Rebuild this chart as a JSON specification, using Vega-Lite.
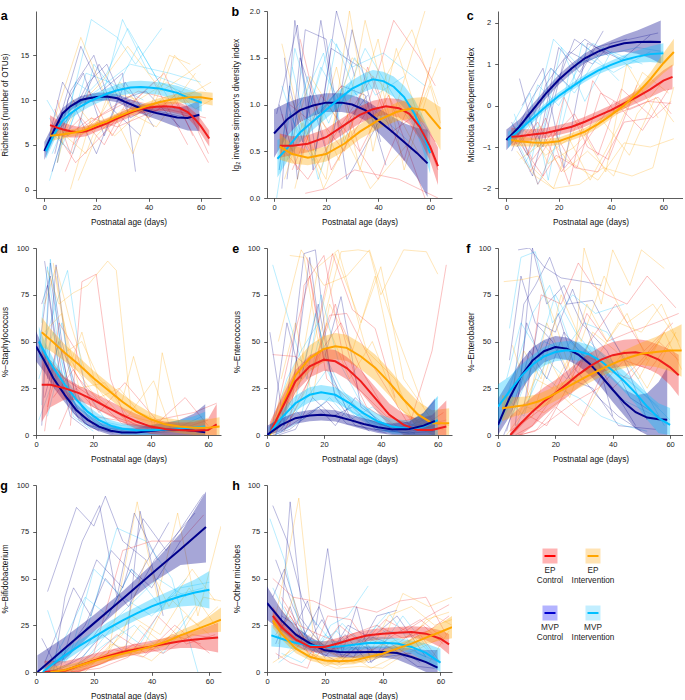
{
"$schema": "https://vega.github.io/schema/vega-lite/v6.json",
"padding": {"left": 0, "top": 5, "right": 0, "bottom": 0},
"autosize": {"type": "pad"},
"columns": 3,
"bounds": "flush",
"spacing": {"row": 50, "column": 46},
"datasets": {
"traj": [
{"p":"a","g":"mi","id":"a1","t":[2,8,18,28,35,45],"v":[1,7,19,17,14,18]},
{"p":"a","g":"mi","id":"a2","t":[5,12,22,30,40,58],"v":[3,12,10,19,13,11]},
{"p":"a","g":"mi","id":"a3","t":[1,9,16,25,38],"v":[10,6,13,12,10]},
{"p":"a","g":"mi","id":"a4","t":[3,10,20,33,48,60],"v":[4,9,11,14,13,12]},
{"p":"a","g":"mi","id":"a17","t":[4,11,19,27,36,50],"v":[6,4,14,11,16,9]},
{"p":"a","g":"mi","id":"a18","t":[2,7,14,24,32,44,60],"v":[8,5,10,13,18,12,10]},
{"p":"a","g":"mc","id":"a5","t":[2,6,14,22,30,35],"v":[5,8,16,11,13,2]},
{"p":"a","g":"mc","id":"a6","t":[4,10,19,26,37],"v":[4,11,15,9,6]},
{"p":"a","g":"mc","id":"a7","t":[3,8,17,24,33,45],"v":[2,7,12,14,8,10]},
{"p":"a","g":"mc","id":"a8","t":[1,12,20,28,40,55],"v":[5,9,4,10,9,8]},
{"p":"a","g":"mc","id":"a19","t":[5,9,15,23,31,42],"v":[3,10,13,6,12,7]},
{"p":"a","g":"mc","id":"a20","t":[2,7,13,21,29,39,52],"v":[6,12,9,14,10,11,7]},
{"p":"a","g":"ec","id":"a9","t":[8,15,25,36,50,63],"v":[2,7,9,11,10,3]},
{"p":"a","g":"ec","id":"a10","t":[3,12,22,31,42,55],"v":[7,3,6,9,12,5]},
{"p":"a","g":"ec","id":"a11","t":[5,9,18,28,44,58],"v":[10,6,8,7,9,8]},
{"p":"a","g":"ec","id":"a12","t":[11,20,33,47,62],"v":[5,8,10,9,8]},
{"p":"a","g":"ec","id":"a21","t":[4,10,17,26,35,46,57],"v":[9,4,11,6,10,13,6]},
{"p":"a","g":"ec","id":"a22","t":[7,14,23,32,40,52,63],"v":[6,8,5,10,8,11,4]},
{"p":"a","g":"ei","id":"a13","t":[4,14,24,34,48,56],"v":[8,17,10,4,15,14]},
{"p":"a","g":"ei","id":"a14","t":[10,18,27,38,52,64],"v":[0,8,6,9,10,12]},
{"p":"a","g":"ei","id":"a15","t":[6,12,22,32,45,60],"v":[5,9,12,16,11,14]},
{"p":"a","g":"ei","id":"a16","t":[13,20,30,43,58],"v":[1,6,9,7,13]},
{"p":"a","g":"ei","id":"a23","t":[5,11,19,29,40,50,62],"v":[3,10,7,12,8,15,11]},
{"p":"a","g":"ei","id":"a24","t":[8,16,25,36,47,58,64],"v":[6,4,11,10,12,9,10]},
{"p":"b","g":"mc","id":"b1","t":[3,8,16,24,31],"v":[0.1,1.9,0.5,2.0,1.3]},
{"p":"b","g":"mc","id":"b2","t":[2,7,12,20,28,40],"v":[1.0,0.5,1.8,1.7,0.2,0.8]},
{"p":"b","g":"mc","id":"b3","t":[5,10,17,26,35,43],"v":[0.2,1.5,0.9,1.2,1.1,0.35]},
{"p":"b","g":"mc","id":"b4","t":[1,9,15,22,33],"v":[0.9,1.85,0.3,1.6,1.4]},
{"p":"b","g":"mc","id":"b17","t":[2,6,11,18,25,36],"v":[0.3,1.2,0.6,1.9,0.7,1.1]},
{"p":"b","g":"mc","id":"b18","t":[4,9,14,21,30,41],"v":[1.5,0.2,1.1,0.4,1.8,0.6]},
{"p":"b","g":"mi","id":"b5","t":[2,8,14,22,30,42,58],"v":[0.3,1.6,1.0,1.7,1.4,1.55,1.2]},
{"p":"b","g":"mi","id":"b6","t":[4,12,19,27,36],"v":[0.8,1.1,1.55,0.6,1.3]},
{"p":"b","g":"mi","id":"b7","t":[1,6,15,24,33,46],"v":[0.0,0.9,0.4,1.65,1.0,0.7]},
{"p":"b","g":"mi","id":"b8","t":[7,17,28,40,52],"v":[1.4,0.2,1.2,0.9,0.6]},
{"p":"b","g":"mi","id":"b19","t":[3,10,18,26,35,48,60],"v":[1.2,0.6,1.4,1.0,1.6,1.0,0.5]},
{"p":"b","g":"mi","id":"b20","t":[5,13,21,31,39,50],"v":[0.5,1.3,0.8,1.5,1.1,1.3]},
{"p":"b","g":"ec","id":"b9","t":[10,22,35,46,56,62],"v":[1.7,0.3,0.9,1.9,1.5,1.2]},
{"p":"b","g":"ec","id":"b10","t":[4,13,24,38,50,60],"v":[0.5,0.2,0.7,1.3,0.4,1.4]},
{"p":"b","g":"ec","id":"b11","t":[6,15,26,33,44,58],"v":[1.0,0.8,1.2,0.5,1.1,0.0]},
{"p":"b","g":"ec","id":"b12","t":[12,20,31,48,63],"v":[0.05,0.1,0.3,0.2,0.0]},
{"p":"b","g":"ec","id":"b21","t":[3,9,18,28,40,52,62],"v":[0.9,0.3,1.1,0.7,0.2,1.0,0.6]},
{"p":"b","g":"ec","id":"b22","t":[7,16,27,36,45,55,63],"v":[0.3,0.9,0.5,1.4,0.7,0.9,0.3]},
{"p":"b","g":"ei","id":"b13","t":[3,12,20,29,38,47,55,64],"v":[1.65,0.6,0.2,2.0,0.5,1.6,0.9,1.5]},
{"p":"b","g":"ei","id":"b14","t":[8,16,25,35,45,58],"v":[0.1,1.0,0.4,1.9,0.8,2.0]},
{"p":"b","g":"ei","id":"b15","t":[5,14,23,37,52,62],"v":[0.4,1.3,0.9,0.1,0.6,1.6]},
{"p":"b","g":"ei","id":"b16","t":[10,18,30,42,57],"v":[0.9,0.3,1.5,1.2,0.4]},
{"p":"b","g":"ei","id":"b23","t":[4,11,19,28,40,50,60,64],"v":[0.2,0.8,0.1,0.6,1.7,0.3,1.2,0.8]},
{"p":"b","g":"ei","id":"b24","t":[6,15,24,33,43,53,63],"v":[1.1,0.5,1.4,0.3,1.3,1.8,1.0]},
{"p":"c","g":"mc","id":"c1","t":[2,8,15,24,33,40,58],"v":[-0.4,-1.2,0.5,1.3,1.0,1.5,1.75]},
{"p":"c","g":"mc","id":"c2","t":[5,12,20,28,37],"v":[0.65,-1.0,1.4,0.8,1.8]},
{"p":"c","g":"mc","id":"c3","t":[3,10,18,26,35],"v":[-0.8,-1.7,0.3,1.6,1.2]},
{"p":"c","g":"mc","id":"c4","t":[6,14,22,31,44,55],"v":[0.0,0.9,-1.5,1.5,1.1,1.7]},
{"p":"c","g":"mc","id":"c17","t":[4,10,17,25,34,46],"v":[-0.6,0.2,0.9,0.4,1.4,1.6]},
{"p":"c","g":"mc","id":"c18","t":[2,8,14,22,30,39],"v":[-1.1,-0.2,-1.0,1.1,1.6,1.2]},
{"p":"c","g":"mi","id":"c5","t":[4,10,18,27,36,50,60],"v":[-1.0,-0.4,1.6,1.0,1.2,1.4,1.3]},
{"p":"c","g":"mi","id":"c6","t":[2,9,16,24,33,45],"v":[-0.5,0.3,-1.8,0.8,1.5,1.1]},
{"p":"c","g":"mi","id":"c7","t":[7,14,21,30,40,52],"v":[-1.4,-0.6,1.4,0.1,1.3,1.0]},
{"p":"c","g":"mi","id":"c8","t":[3,12,20,29,43],"v":[-0.2,-1.9,-0.8,1.5,0.6]},
{"p":"c","g":"mi","id":"c19","t":[5,12,20,30,41,55],"v":[-0.9,0.5,0.0,1.2,0.8,1.3]},
{"p":"c","g":"mi","id":"c20","t":[3,9,17,26,37,48],"v":[-0.7,-1.5,0.9,0.3,1.4,0.9]},
{"p":"c","g":"ec","id":"c9","t":[6,12,19,27,36,47,58,63],"v":[-0.7,-1.9,-1.2,-1.5,0.3,-0.1,0.2,-0.2]},
{"p":"c","g":"ec","id":"c10","t":[3,10,18,26,35,45,55],"v":[-0.5,-1.3,-0.6,-1.5,-1.6,-0.4,-0.3]},
{"p":"c","g":"ec","id":"c11","t":[8,15,24,33,42,54,63],"v":[-1.2,-0.3,-1.9,0.6,-0.2,0.1,0.05]},
{"p":"c","g":"ec","id":"c12","t":[5,14,22,31,39,50],"v":[-0.9,-1.7,0.2,-1.0,-1.3,0.5]},
{"p":"c","g":"ec","id":"c21","t":[4,12,21,30,41,52,62],"v":[-1.0,-0.4,-1.6,-0.9,0.1,-0.6,0.4]},
{"p":"c","g":"ec","id":"c22","t":[9,17,26,35,44,56,63],"v":[-1.6,-0.8,-0.2,-1.2,0.4,-0.3,0.1]},
{"p":"c","g":"ei","id":"c13","t":[4,11,18,28,37,48,56,64],"v":[-1.1,-1.7,-2.0,-1.9,-1.5,-1.7,-1.5,0.45]},
{"p":"c","g":"ei","id":"c14","t":[7,15,24,32,43,52,62],"v":[-0.6,-1.2,-0.8,-1.8,-0.5,0.8,0.3]},
{"p":"c","g":"ei","id":"c15","t":[10,18,27,38,46,58],"v":[-1.5,-2.0,-0.4,-1.6,1.0,-0.3]},
{"p":"c","g":"ei","id":"c16","t":[3,13,23,35,45,55,64],"v":[-0.9,-0.5,-1.3,-1.8,-0.9,-1.0,-0.8]},
{"p":"c","g":"ei","id":"c23","t":[5,14,22,31,41,50,60],"v":[-1.3,-0.9,-1.6,-1.1,-1.7,-0.2,0.6]},
{"p":"c","g":"ei","id":"c24","t":[8,16,26,36,47,57,64],"v":[-0.4,-1.4,-1.0,-0.3,-1.2,0.2,-0.4]},
{"p":"d","g":"mc","id":"d1","t":[3,6,10,15,22],"v":[93,60,25,8,2]},
{"p":"d","g":"mc","id":"d2","t":[2,5,9,14,20,30],"v":[5,92,50,20,5,1]},
{"p":"d","g":"mc","id":"d3","t":[1,4,8,12,18],"v":[45,80,35,10,3]},
{"p":"d","g":"mc","id":"d4","t":[4,7,11,16,24,35],"v":[30,91,40,15,4,1]},
{"p":"d","g":"mc","id":"d17","t":[2,5,9,13,19,27],"v":[70,85,45,12,4,1]},
{"p":"d","g":"mc","id":"d18","t":[3,8,12,17,25,40,58],"v":[20,50,22,6,2,1,3]},
{"p":"d","g":"mi","id":"d5","t":[2,5,9,13,20],"v":[16,94,40,10,2]},
{"p":"d","g":"mi","id":"d6","t":[3,7,11,17,25,35],"v":[50,70,88,25,6,2]},
{"p":"d","g":"mi","id":"d7","t":[1,6,10,15,22,32],"v":[30,55,20,12,4,3]},
{"p":"d","g":"mi","id":"d8","t":[4,8,14,21,30,48,58],"v":[10,35,15,8,5,3,10]},
{"p":"d","g":"mi","id":"d19","t":[2,4,8,12,18,28],"v":[60,90,45,20,5,2]},
{"p":"d","g":"mi","id":"d20","t":[1,5,9,14,21,30,45],"v":[8,25,60,18,6,3,2]},
{"p":"d","g":"ec","id":"d9","t":[12,16,21,26,32],"v":[5,82,86,30,5]},
{"p":"d","g":"ec","id":"d10","t":[3,8,14,20,28,40,52,60],"v":[2,60,45,10,8,3,20,5]},
{"p":"d","g":"ec","id":"d11","t":[5,10,18,25,34,45],"v":[40,30,22,15,6,2]},
{"p":"d","g":"ec","id":"d12","t":[6,13,22,31,42,55,63],"v":[20,35,12,28,8,12,17]},
{"p":"d","g":"ec","id":"d21","t":[4,9,15,22,30,40,52],"v":[15,45,30,18,6,4,2]},
{"p":"d","g":"ec","id":"d22","t":[8,14,20,27,36,48,60],"v":[3,25,15,10,5,2,8]},
{"p":"d","g":"ei","id":"d13","t":[4,8,13,18,25,28,33],"v":[88,70,76,80,93,88,15]},
{"p":"d","g":"ei","id":"d14","t":[6,11,16,22,30,34,41,44,50],"v":[92,45,50,30,18,42,3,44,5]},
{"p":"d","g":"ei","id":"d15","t":[3,9,15,24,32,41,47],"v":[55,65,25,28,10,29,3]},
{"p":"d","g":"ei","id":"d16","t":[7,12,20,28,38,48,60],"v":[85,40,22,12,8,4,9]},
{"p":"d","g":"ei","id":"d23","t":[3,7,12,17,24,31,40,50],"v":[70,90,60,35,20,8,5,3]},
{"p":"d","g":"ei","id":"d24","t":[5,10,16,22,29,36,46,58],"v":[40,30,55,20,25,12,6,4]},
{"p":"e","g":"ei","id":"e1","t":[8,13,18,26,32,36,40,48,56,60],"v":[96,95,50,98,99,98,75,99,98,86]},
{"p":"e","g":"ei","id":"e2","t":[4,12,20,28,36,44,55],"v":[50,99,80,85,99,60,15]},
{"p":"e","g":"ei","id":"e3","t":[6,15,24,33,40,48,58,64],"v":[10,40,97,60,90,30,8,5]},
{"p":"e","g":"ei","id":"e4","t":[10,18,25,35,45,52,62],"v":[20,90,99,45,30,5,3]},
{"p":"e","g":"ei","id":"e17","t":[5,10,16,22,30,38,47,57],"v":[30,60,20,70,45,85,20,4]},
{"p":"e","g":"ei","id":"e18","t":[7,14,21,29,37,46,55,63],"v":[5,25,60,30,50,15,5,8]},
{"p":"e","g":"ec","id":"e5","t":[14,18,23,30,38,45],"v":[95,60,97,67,57,20]},
{"p":"e","g":"ec","id":"e6","t":[2,10,16,22,28,38,50,58,63],"v":[43,42,35,64,65,35,5,45,91]},
{"p":"e","g":"ec","id":"e7","t":[8,13,20,27,35,44,55],"v":[5,80,96,40,15,6,10]},
{"p":"e","g":"ec","id":"e8","t":[5,15,24,32,42,54,62],"v":[3,30,70,25,10,4,12]},
{"p":"e","g":"ec","id":"e19","t":[3,9,15,21,28,36,45,56],"v":[10,50,85,30,20,8,3,2]},
{"p":"e","g":"ec","id":"e20","t":[6,12,19,26,33,42,52,61],"v":[2,20,45,60,35,12,2,6]},
{"p":"e","g":"mi","id":"e9","t":[2,8,14,19,25,32,40],"v":[91,60,30,75,40,20,5]},
{"p":"e","g":"mi","id":"e10","t":[4,10,17,23,30,38,50,60],"v":[5,18,65,30,12,6,3,20]},
{"p":"e","g":"mi","id":"e11","t":[3,9,15,21,28,36,46],"v":[0,10,22,35,14,8,2]},
{"p":"e","g":"mi","id":"e12","t":[6,12,18,26,34,44,56],"v":[20,10,50,25,10,4,6]},
{"p":"e","g":"mi","id":"e21","t":[2,7,12,18,24,31,40,52],"v":[5,30,45,60,20,10,2,1]},
{"p":"e","g":"mi","id":"e22","t":[3,9,16,22,29,37,47,58],"v":[0,5,12,20,8,15,3,10]},
{"p":"e","g":"mc","id":"e13","t":[1,6,13,17,22,29,36],"v":[55,5,97,99,35,10,2]},
{"p":"e","g":"mc","id":"e14","t":[3,9,15,20,26,33,44],"v":[0,25,95,40,74,15,3]},
{"p":"e","g":"mc","id":"e15","t":[5,11,18,24,31,40,52],"v":[2,8,15,5,20,6,1]},
{"p":"e","g":"mc","id":"e16","t":[2,8,14,21,28,38,50,59],"v":[0,3,10,18,6,3,1,2]},
{"p":"e","g":"mc","id":"e23","t":[2,7,12,18,24,31,42],"v":[5,60,30,70,20,5,1]},
{"p":"e","g":"mc","id":"e24","t":[4,10,16,23,30,38,50],"v":[0,3,20,10,15,3,1]},
{"p":"f","g":"mc","id":"f1","t":[7,11,16,22,30,36],"v":[99,100,90,84,82,80]},
{"p":"f","g":"mc","id":"f2","t":[5,9,13,18,24,33,44,52],"v":[20,70,80,95,70,72,40,8]},
{"p":"f","g":"mc","id":"f3","t":[3,8,12,17,23,29,38,46,56],"v":[2,30,100,70,80,60,45,20,10]},
{"p":"f","g":"mc","id":"f4","t":[6,10,15,21,27,35,42,50],"v":[5,60,40,65,35,20,10,2]},
{"p":"f","g":"mc","id":"f5","t":[9,14,20,26,34,40],"v":[15,60,55,78,45,10]},
{"p":"f","g":"mc","id":"f18","t":[4,8,13,19,25,33,42,55],"v":[40,85,60,50,30,25,5,3]},
{"p":"f","g":"mc","id":"f19","t":[2,6,11,17,23,31,40,48],"v":[0,15,45,30,55,40,25,5]},
{"p":"f","g":"mi","id":"f6","t":[4,8,13,19,26,34,44],"v":[57,95,98,60,75,65,70]},
{"p":"f","g":"mi","id":"f7","t":[2,7,12,18,25,33,42,55],"v":[15,40,65,80,50,38,20,10]},
{"p":"f","g":"mi","id":"f8","t":[5,10,16,23,30,38,47,58],"v":[10,30,50,45,60,55,35,5]},
{"p":"f","g":"mi","id":"f9","t":[3,9,14,21,28,36,44,52],"v":[20,10,35,25,20,10,5,2]},
{"p":"f","g":"mi","id":"f20","t":[3,8,14,20,27,35,45,56],"v":[30,60,45,75,55,40,30,15]},
{"p":"f","g":"mi","id":"f21","t":[5,11,17,24,32,41,52,60],"v":[0,20,40,30,50,35,20,8]},
{"p":"f","g":"ec","id":"f10","t":[10,15,22,28,33,38,45,52,62],"v":[20,75,70,92,80,75,70,85,68]},
{"p":"f","g":"ec","id":"f11","t":[6,12,19,25,31,38,46,55,63],"v":[0,5,20,40,65,50,55,60,65]},
{"p":"f","g":"ec","id":"f12","t":[4,10,16,24,32,40,50,58],"v":[2,8,15,30,45,25,40,55]},
{"p":"f","g":"ec","id":"f13","t":[8,14,20,27,35,44,53,60],"v":[0,3,10,18,25,40,35,50]},
{"p":"f","g":"ec","id":"f22","t":[5,11,17,24,32,41,51,61],"v":[0,10,5,25,50,70,45,60]},
{"p":"f","g":"ec","id":"f23","t":[7,13,20,28,37,46,56,63],"v":[0,2,15,5,35,30,50,40]},
{"p":"f","g":"ei","id":"f14","t":[2,8,14,20,26,30,36,40,46,50,58],"v":[82,83,85,60,30,100,70,99,80,99,89]},
{"p":"f","g":"ei","id":"f15","t":[5,11,17,24,31,38,45,52,60],"v":[48,20,60,35,70,50,65,40,60]},
{"p":"f","g":"ei","id":"f16","t":[7,13,19,26,34,42,50,57,64],"v":[10,30,25,45,40,60,55,70,45]},
{"p":"f","g":"ei","id":"f17","t":[3,10,16,23,30,37,44,52,62],"v":[0,15,12,20,10,30,45,25,55]},
{"p":"f","g":"ei","id":"f24","t":[4,9,15,22,29,37,45,54,63],"v":[20,45,30,75,50,85,60,70,50]},
{"p":"f","g":"ei","id":"f25","t":[6,12,18,25,33,41,49,58,64],"v":[5,10,40,20,55,45,30,55,35]},
{"p":"g","g":"mc","id":"g1","t":[4,14,20,24,30,38],"v":[43,88,78,94,70,60]},
{"p":"g","g":"mc","id":"g2","t":[6,10,16,22,28,34,42],"v":[0,40,70,89,40,85,60]},
{"p":"g","g":"mc","id":"g3","t":[2,8,14,21,30,37,45,58],"v":[18,0,32,60,45,82,65,95]},
{"p":"g","g":"mc","id":"g4","t":[5,12,18,25,33,40,50],"v":[0,5,15,30,55,45,70]},
{"p":"g","g":"mc","id":"g5","t":[3,9,16,23,31,36,44],"v":[0,2,8,20,10,86,30]},
{"p":"g","g":"mc","id":"g17","t":[3,7,13,19,26,35,46],"v":[5,20,45,30,65,50,80]},
{"p":"g","g":"mc","id":"g18","t":[4,10,17,24,32,41,55],"v":[0,10,25,50,35,60,85]},
{"p":"g","g":"mi","id":"g6","t":[4,10,18,28,38,47,56],"v":[33,5,25,77,70,50,0]},
{"p":"g","g":"mi","id":"g7","t":[3,12,20,30,40,50,60],"v":[0,10,55,40,30,45,48]},
{"p":"g","g":"mi","id":"g8","t":[6,14,22,32,42,52],"v":[0,3,20,35,50,40]},
{"p":"g","g":"mi","id":"g9","t":[2,8,16,24,34,44,55],"v":[0,2,5,15,25,10,35]},
{"p":"g","g":"mi","id":"g19","t":[3,9,17,25,33,43,52],"v":[0,15,40,30,55,35,50]},
{"p":"g","g":"mi","id":"g20","t":[5,12,19,27,36,46,58],"v":[0,0,10,25,15,40,45]},
{"p":"g","g":"ec","id":"g10","t":[10,20,30,40,50,58],"v":[0,10,65,70,70,84]},
{"p":"g","g":"ec","id":"g11","t":[12,22,32,42,52,62],"v":[0,2,8,30,15,20]},
{"p":"g","g":"ec","id":"g12","t":[8,18,28,38,48,60],"v":[0,5,20,10,25,10]},
{"p":"g","g":"ec","id":"g21","t":[6,14,24,34,44,54,62],"v":[0,0,5,15,10,20,18]},
{"p":"g","g":"ec","id":"g22","t":[9,17,27,37,47,57],"v":[0,3,12,8,20,15]},
{"p":"g","g":"ei","id":"g13","t":[15,25,35,42,49,56,64],"v":[0,10,91,40,85,30,78]},
{"p":"g","g":"ei","id":"g14","t":[10,20,30,38,46,54,62],"v":[0,5,20,60,35,55,38]},
{"p":"g","g":"ei","id":"g15","t":[8,18,28,36,44,52,60],"v":[0,2,8,25,15,30,20]},
{"p":"g","g":"ei","id":"g16","t":[12,22,32,40,50,58,64],"v":[0,4,12,6,20,40,38]},
{"p":"g","g":"ei","id":"g23","t":[6,14,24,33,43,53,62],"v":[0,3,8,30,20,45,25]},
{"p":"g","g":"ei","id":"g24","t":[9,17,26,36,46,56,63],"v":[0,0,15,10,40,25,35]},
{"p":"h","g":"mc","id":"h1","t":[2,7,12,17,21,26,31,36,42],"v":[89,70,40,25,66,10,35,5,15]},
{"p":"h","g":"mc","id":"h2","t":[4,8,13,18,24,30,38,45],"v":[7,91,20,35,10,8,30,33]},
{"p":"h","g":"mc","id":"h3","t":[3,9,15,20,27,35,44,52,58],"v":[60,35,15,8,20,5,12,3,2]},
{"p":"h","g":"mc","id":"h4","t":[5,10,14,19,25,32,40,50],"v":[30,25,38,10,5,15,8,10]},
{"p":"h","g":"mc","id":"h16","t":[2,6,11,16,22,28,36,45,55],"v":[40,55,30,20,10,25,18,30,8]},
{"p":"h","g":"mc","id":"h17","t":[3,8,13,19,26,34,43,53],"v":[15,35,12,28,8,20,15,5]},
{"p":"h","g":"mi","id":"h5","t":[1,6,11,17,22,28,35],"v":[82,60,25,10,25,30,46]},
{"p":"h","g":"mi","id":"h6","t":[3,8,14,20,27,34,42,52,60],"v":[20,15,8,20,12,18,32,10,5]},
{"p":"h","g":"mi","id":"h7","t":[5,12,18,24,31,38,46,55],"v":[10,5,15,22,10,25,15,8]},
{"p":"h","g":"mi","id":"h18","t":[2,7,13,19,26,33,41,50,58],"v":[45,30,20,12,26,15,22,20,8]},
{"p":"h","g":"mi","id":"h19","t":[4,10,16,23,30,38,47,56],"v":[5,12,28,15,20,10,30,12]},
{"p":"h","g":"ec","id":"h8","t":[2,9,16,23,30,38,46,55,62],"v":[50,40,38,33,35,32,38,40,20]},
{"p":"h","g":"ec","id":"h9","t":[4,10,17,25,33,41,48,56,63],"v":[25,15,8,25,15,28,22,30,36]},
{"p":"h","g":"ec","id":"h10","t":[6,12,19,27,35,44,53,60],"v":[35,20,12,8,18,12,20,5]},
{"p":"h","g":"ec","id":"h11","t":[3,8,14,21,29,37,45,54,61],"v":[10,5,2,30,28,10,15,25,15]},
{"p":"h","g":"ec","id":"h20","t":[3,8,14,21,29,38,47,56,63],"v":[20,30,15,10,20,25,18,22,30]},
{"p":"h","g":"ec","id":"h21","t":[5,11,18,26,35,44,53,61],"v":[40,25,20,15,10,20,28,18]},
{"p":"h","g":"ei","id":"h12","t":[3,7,11,16,22,30,38,47,56,64],"v":[30,60,93,20,10,5,8,42,35,40]},
{"p":"h","g":"ei","id":"h13","t":[5,10,15,21,28,36,44,52,60],"v":[25,15,20,5,10,2,8,12,18]},
{"p":"h","g":"ei","id":"h14","t":[4,9,14,20,26,34,42,50,58,64],"v":[15,40,10,3,8,5,30,35,25,28]},
{"p":"h","g":"ei","id":"h15","t":[6,12,18,24,32,40,48,56,63],"v":[8,20,5,2,3,2,10,5,22]},
{"p":"h","g":"ei","id":"h22","t":[2,7,12,18,25,33,41,50,58,64],"v":[5,10,15,8,3,10,15,20,30,25]},
{"p":"h","g":"ei","id":"h23","t":[4,9,15,21,28,37,46,55,63],"v":[35,25,8,12,5,18,10,28,32]}
],
"fit": [
{"p":"a","g":"mc","t":[0,4,7,10,14,17,20,24,28,31,35,39,43,47,51,55,59.5],"y":[4.3,6.8,8.5,9.3,10.0,10.2,10.35,10.4,10.2,9.8,9.3,8.85,8.55,8.3,8.05,8.0,8.35],"lo":[3.3,6.0,7.9,8.8,9.55,9.75,9.9,9.95,9.75,9.3,8.75,8.25,7.85,7.4,6.95,6.6,6.55],"hi":[5.3,7.6,9.1,9.8,10.45,10.65,10.8,10.85,10.65,10.3,9.85,9.45,9.25,9.2,9.15,9.4,9.95]},
{"p":"a","g":"mi","t":[0.6,4,7,10,14,17,20,24,28,33,37,40,44,47,51,55,60.4],"y":[4.3,6.3,7.7,8.5,9.3,9.8,10.2,10.7,11.1,11.4,11.45,11.4,11.3,11.1,10.8,10.3,9.7],"lo":[3.4,5.6,7.05,7.9,8.7,9.2,9.6,10.1,10.45,10.7,10.75,10.7,10.6,10.35,10.0,9.4,8.7],"hi":[5.2,7.0,8.35,9.1,9.9,10.4,10.8,11.3,11.75,12.1,12.15,12.1,12.0,11.85,11.6,11.2,10.7]},
{"p":"a","g":"ec","t":[2.2,5,7.2,10,13,16,20,24,27,30,33,36,40,43,46,49,52,55,58,60,63.3],"y":[7.2,6.9,6.7,6.5,6.4,6.5,6.95,7.4,7.8,8.2,8.6,8.9,9.15,9.25,9.3,9.25,9.1,8.65,7.8,7.1,5.7],"lo":[6.1,6.0,5.9,5.8,5.8,5.95,6.45,6.9,7.3,7.7,8.1,8.4,8.65,8.75,8.8,8.7,8.5,8.0,7.05,6.3,4.8],"hi":[8.3,7.8,7.5,7.2,7.0,7.05,7.45,7.9,8.3,8.7,9.1,9.4,9.65,9.75,9.8,9.8,9.7,9.3,8.55,7.9,6.6]},
{"p":"a","g":"ei","t":[2.2,5,8,11,14,17,20,24,27,30,33,36,40,44,48,52,56,60,64.6],"y":[6.0,6.1,6.2,6.35,6.5,6.8,7.2,7.6,8.0,8.35,8.7,9.0,9.4,9.75,10.0,10.2,10.3,10.3,10.1],"lo":[5.4,5.6,5.75,5.95,6.1,6.4,6.8,7.2,7.6,7.95,8.3,8.6,9.0,9.3,9.5,9.65,9.7,9.65,9.4],"hi":[6.6,6.6,6.65,6.75,6.9,7.2,7.6,8.0,8.4,8.75,9.1,9.4,9.8,10.2,10.5,10.75,10.9,10.95,10.8]},
{"p":"b","g":"mc","t":[0,5,10,15,20,26,30,35,40,45,50,55,59],"y":[0.69,0.84,0.94,0.99,1.02,1.02,1.0,0.94,0.83,0.72,0.6,0.48,0.37],"lo":[0.43,0.66,0.81,0.88,0.92,0.92,0.9,0.83,0.70,0.56,0.40,0.21,0.01],"hi":[0.95,1.02,1.07,1.10,1.12,1.12,1.1,1.05,0.96,0.88,0.80,0.75,0.73]},
{"p":"b","g":"mi","t":[1.3,5,10,15,20,25,30,35,38,42,46,50,54,57,60],"y":[0.42,0.53,0.7,0.82,0.94,1.06,1.17,1.24,1.27,1.25,1.19,1.08,0.9,0.71,0.48],"lo":[0.22,0.39,0.6,0.73,0.85,0.97,1.08,1.14,1.17,1.15,1.08,0.96,0.75,0.53,0.26],"hi":[0.62,0.67,0.8,0.91,1.03,1.15,1.26,1.34,1.37,1.35,1.30,1.20,1.05,0.89,0.70]},
{"p":"b","g":"ec","t":[2.2,7,13,20,27,33,38,43,48,52,56,60,63],"y":[0.56,0.56,0.58,0.65,0.78,0.89,0.95,0.98,0.96,0.9,0.76,0.55,0.34],"lo":[0.43,0.46,0.49,0.56,0.69,0.80,0.86,0.89,0.86,0.79,0.63,0.39,0.14],"hi":[0.69,0.66,0.67,0.74,0.87,0.98,1.04,1.07,1.06,1.01,0.89,0.71,0.54]},
{"p":"b","g":"ei","t":[2.2,7,13,20,27,33,40,47,53,58,64],"y":[0.55,0.47,0.43,0.47,0.58,0.71,0.83,0.92,0.96,0.94,0.74],"lo":[0.41,0.37,0.35,0.39,0.50,0.63,0.74,0.82,0.85,0.80,0.51],"hi":[0.69,0.57,0.51,0.55,0.66,0.79,0.92,1.02,1.07,1.08,0.97]},
{"p":"c","g":"mc","t":[0,5,10,15,20,25,30,35,40,45,50,55,59],"y":[-0.83,-0.51,-0.11,0.28,0.62,0.9,1.14,1.30,1.42,1.50,1.53,1.54,1.53],"lo":[-1.08,-0.69,-0.25,0.16,0.5,0.78,1.02,1.17,1.27,1.30,1.25,1.14,1.01],"hi":[-0.58,-0.33,0.03,0.40,0.74,1.02,1.26,1.43,1.57,1.70,1.81,1.94,2.05]},
{"p":"c","g":"mi","t":[0.6,5,10,15,20,25,30,35,40,45,50,55,60],"y":[-0.83,-0.59,-0.31,-0.03,0.23,0.45,0.66,0.84,0.98,1.10,1.18,1.24,1.26],"lo":[-1.03,-0.72,-0.41,-0.12,0.14,0.36,0.57,0.75,0.88,0.98,1.03,1.05,1.02],"hi":[-0.63,-0.46,-0.21,0.06,0.32,0.54,0.75,0.93,1.08,1.22,1.33,1.43,1.50]},
{"p":"c","g":"ec","t":[1.9,5,10,15,20,25,30,35,40,45,50,55,60,63.5],"y":[-0.75,-0.74,-0.70,-0.66,-0.59,-0.51,-0.39,-0.25,-0.11,0.05,0.21,0.39,0.6,0.69],"lo":[-0.97,-0.91,-0.83,-0.78,-0.71,-0.63,-0.51,-0.37,-0.23,-0.08,0.06,0.20,0.35,0.39],"hi":[-0.53,-0.57,-0.57,-0.54,-0.47,-0.39,-0.27,-0.13,0.01,0.18,0.36,0.58,0.85,0.99]},
{"p":"c","g":"ei","t":[1.9,5,10,15,20,25,30,35,40,45,50,55,60,64],"y":[-0.83,-0.86,-0.89,-0.90,-0.86,-0.75,-0.63,-0.45,-0.23,0.01,0.29,0.63,1.02,1.29],"lo":[-0.99,-0.98,-0.99,-0.99,-0.95,-0.84,-0.72,-0.54,-0.32,-0.09,0.17,0.47,0.78,0.97],"hi":[-0.67,-0.74,-0.79,-0.81,-0.77,-0.66,-0.54,-0.36,-0.14,0.11,0.41,0.79,1.26,1.61]},
{"p":"d","g":"mc","t":[0,3,6,10,14,18,22,26,30,35,40,45,50,55,59],"y":[47.5,39.4,30.5,21.5,13.4,8.1,4.5,2.3,1.4,1.4,2.2,2.9,3.0,2.3,1.4],"lo":[39.5,33.4,25.5,17.5,9.9,5.1,2.0,0,0,0,0,0,0,0,0],"hi":[55.5,45.4,35.5,25.5,16.9,11.1,7.0,4.8,3.9,3.9,5.2,6.4,8.0,11.3,16.4]},
{"p":"d","g":"mi","t":[1,3,6,10,14,18,22,26,30,35,40,45,50,55,59],"y":[50,44,36,27,19,12.5,8,5,3.3,2.5,2.5,3,3.5,4,4.5],"lo":[42,38,31,23,15.5,9.5,5,2,0.3,0,0,0,0,0,0],"hi":[58,50,41,31,22.5,15.5,11,8,6.3,5.5,5.5,6.5,8,10,12.5]},
{"p":"d","g":"ec","t":[2,5,10,15,20,25,30,35,40,45,50,55,60,63],"y":[26.9,26.9,25,22.4,18.8,14.7,10.8,7.2,4.5,3.2,2.7,2.3,2.7,5.7],"lo":[6.9,14.9,19,18.4,14.8,10.7,6.8,3.2,0.5,0,0,0,0,0],"hi":[46.9,38.9,31,26.4,22.8,18.7,14.8,11.2,8.5,7.2,6.7,6.8,8.7,16.7]},
{"p":"d","g":"ei","t":[2,5,10,15,20,25,30,35,40,45,50,55,60,64],"y":[55,51,44,37.6,30.5,24.2,17.9,12.5,8.4,5.7,4.5,3.9,3.9,4.5],"lo":[47,45,39.5,33.6,26.5,20.2,13.9,8.5,4.9,2.2,1.0,0,0,0],"hi":[63,57,48.5,41.6,34.5,28.2,21.9,16.5,11.9,9.2,8.0,7.9,8.4,9.5]},
{"p":"e","g":"ei","t":[1,3,6,10,15,20,24,28,33,38,43,48,53,58,64],"y":[0,7,18,32,41,46,47.5,46.6,42,36,28,19,11,6.3,6.3],"lo":[0,1,11.5,25,34,39,40.5,39.6,35,29,21,12,4,0,0],"hi":[5,13,24.5,39,48,53,54.5,53.6,49,43,35,26,18,13.3,14.3]},
{"p":"e","g":"ec","t":[1,5,10,15,20,24,28,33,38,43,48,53,58,63],"y":[1,13.4,28.7,36.7,40.3,39.4,35.8,28.7,19.7,10.8,5.4,2.7,2.7,4.5],"lo":[0,7.4,22.7,30.7,34.3,33.4,29.8,22.7,13.7,4.8,0,0,0,0],"hi":[7,19.4,34.7,42.7,46.3,45.4,41.8,34.7,25.7,16.8,11.4,8.7,10.7,18.5]},
{"p":"e","g":"mi","t":[0.5,5,10,15,19,24,29,34,39,44,50,55,60],"y":[0,9,17,21.5,22.8,21.5,17,11.6,7.2,4.5,3.2,4.5,8],"lo":[0,5,13,17.5,18.8,17.5,13,7.6,3.2,0.5,0,0,0],"hi":[4,13,21,25.5,26.8,25.5,21,15.6,11.2,8.5,7.7,11.5,21]},
{"p":"e","g":"mc","t":[0,5,10,15,19,24,29,34,39,44,50,55,59],"y":[0,5.4,9,10.4,10.8,10.2,8.1,5.9,4.1,3,3.2,5,7.5],"lo":[0,1.9,6,7.4,7.8,7.2,5.1,2.9,1.1,0,0,0,0],"hi":[5,8.9,12,13.4,13.8,13.2,11.1,8.9,7.1,6,7.2,12,19.5]},
{"p":"f","g":"mc","t":[0,4,8,12,16,20,24,28,32,36,40,44,48,52,56,59],"y":[5.4,19.7,31.4,39.8,44.8,47,46.2,43,38,31.4,24.2,17.4,12.2,9.3,8.4,8.1],"lo":[0,9.7,23.4,32.8,38.8,41,40.2,37,32,25.4,17.7,10.4,3.2,0,0,0],"hi":[19.4,29.7,39.4,46.8,50.8,53,52.2,49,44,37.4,30.7,24.4,21.2,22.3,28.4,36.1]},
{"p":"f","g":"mi","t":[0,4,8,12,16,20,24,28,32,36,40,44,48,52,56,60],"y":[15.2,23.3,31.4,37.6,42,44.4,45.3,44.8,43,39.4,34.4,28.7,22.4,15.2,9,5.4],"lo":[3.2,15.3,25.4,32.6,37,39.4,40.3,39.8,38,34.4,29.4,23.2,16.4,8.2,1,0],"hi":[27.2,31.3,37.4,42.6,47,49.4,50.3,49.8,48,44.4,39.4,34.2,28.4,22.2,17,14.4]},
{"p":"f","g":"ec","t":[4.3,8,12,16,20,24,28,32,36,40,44,48,52,56,60,63],"y":[0,6.3,12.5,17.9,22.4,27.2,32.3,36.7,40.3,42.7,43.9,44.3,43,40.3,36.2,31.9],"lo":[0,0,4.5,10.4,15.4,20.2,25.3,29.7,33.3,35.7,36.9,37.3,35.5,32.3,26.7,20.9],"hi":[10,15.3,20.5,25.4,29.4,34.2,39.3,43.7,47.3,49.7,50.9,51.3,50.5,48.3,45.7,42.9]},
{"p":"f","g":"ei","t":[1.4,6,10,14,18,22,26,30,34,38,42,46,50,55,60,64],"y":[14.3,15.2,16.1,17.9,20.6,23.8,27.2,30.5,33.7,36.7,39.4,41.6,43.4,44.4,45.2,45.2],"lo":[7.3,10.2,11.6,13.9,16.6,19.8,23.2,26.5,29.7,32.7,34.9,36.6,37.4,36.4,34.2,31.2],"hi":[21.3,20.2,20.6,21.9,24.6,27.8,31.2,34.5,37.7,40.7,43.9,46.6,49.4,52.4,56.2,59.2]},
{"p":"g","g":"mc","t":[0.5,10,20,30,40,50,58.8],"y":[0,12.7,26,39.2,52.5,65.7,77.5],"lo":[0,6.7,21.5,35.2,47.5,57.2,58.5],"hi":[9,18.7,30.5,43.2,57.5,74.2,96.5]},
{"p":"g","g":"mi","t":[2.4,6,10,15,20,25,30,35,40,45,50,55,60],"y":[0,4.5,8.9,14,18.7,23.3,27.6,31.5,35.1,38,40.5,42.5,44],"lo":[0,1.5,5.9,11,15.7,19.8,24.1,28,31.1,33.5,35,35.5,34],"hi":[3,7.5,11.9,17,21.7,26.8,31.1,35,39.1,42.5,46,49.5,54]},
{"p":"g","g":"ec","t":[3,10,15,20,25,30,35,40,45,50,55,63],"y":[0,0.8,3.5,6.2,8.6,10.7,12.3,13.7,15.1,16.4,17.4,18.4],"lo":[0,0,0,2.7,5.6,7.7,9.3,10.7,11.9,12.8,12.9,10.4],"hi":[6,5.8,7.5,9.7,11.6,13.7,15.3,16.7,18.3,20,21.9,26.4]},
{"p":"g","g":"ei","t":[5,10,15,20,25,30,35,40,45,50,55,60,64],"y":[0,1,3.5,5.9,7.9,9.8,11.7,13.7,16.2,19.6,22.5,25.5,28],"lo":[0,0,1.5,3.9,5.9,7.8,9.7,11.7,13.9,17,19.5,21,21.5],"hi":[3,3.5,5.5,7.9,9.9,11.8,13.7,15.7,18.5,22.2,25.5,30,34.5]},
{"p":"h","g":"mc","t":[0,5,10,15,20,25,30,35,40,45,50,55,59],"y":[36.9,27.6,20,15.2,11.6,10.7,10.5,10.7,10.7,10.2,8,5.3,2.3],"lo":[27.9,22.1,16,11.7,8.6,7.7,7.5,7.7,7.7,6.7,3.5,0,0],"hi":[45.9,33.1,24,18.7,14.6,13.7,13.5,13.7,13.7,13.7,12.5,11.8,11.8]},
{"p":"h","g":"mi","t":[1.5,5,10,15,20,25,30,35,40,45,50,55,60],"y":[19.6,17.8,15.5,14.3,13.4,13.7,14.6,15.5,15.7,15.2,13.4,10.2,5],"lo":[13.6,13.3,12,11.3,10.4,10.7,11.6,12.5,12.7,12.2,9.9,5.2,0],"hi":[25.6,22.3,19,17.3,16.4,16.7,17.6,18.5,18.7,18.2,16.9,15.2,12.5]},
{"p":"h","g":"ec","t":[2,5,10,15,20,25,30,35,40,45,50,55,60,63],"y":[30,24,17.3,13.4,13.4,15.5,17.8,19.6,20.5,21,21.4,20.5,17.8,14.8],"lo":[25,20,13.8,10.4,10.4,12.5,14.8,16.6,17.5,18,18.4,17,13.3,9.3],"hi":[35,28,20.8,16.4,16.4,18.5,20.8,22.6,23.5,24,24.4,24,22.3,20.3]},
{"p":"h","g":"ei","t":[2,5,10,15,20,25,30,35,40,45,50,55,60,64],"y":[27.6,20.5,12.5,8,6.2,5.7,6.2,8,9.8,12.5,15.2,18.4,21.4,24],"lo":[23.6,17.5,10,6,4.2,3.7,4.2,6,7.8,10.2,12.5,15.1,16.9,18],"hi":[31.6,23.5,15,10,8.2,7.7,8.2,10,11.8,14.8,17.9,21.7,25.9,30]}
],
"legend": [
{"g":"ec","c":0,"r":0,"lab":"EP\nControl"},
{"g":"ei","c":1,"r":0,"lab":"EP\nIntervention"},
{"g":"mc","c":0,"r":1,"lab":"MVP\nControl"},
{"g":"mi","c":1,"r":1,"lab":"MVP\nIntervention"}
]
},
"concat": [
{"width":185,"height":187,"title":{"text":"a"},
 "layer":[
  {"data":{"name":"traj"},"transform":[{"filter":"datum.p=='a'"},{"flatten":["t","v"]}],
   "mark":{"type":"line","strokeWidth":0.8,"opacity":0.35,"clip":true},
   "encoding":{"x":{"field":"t","type":"quantitative","scale":{"domain":[-3.2,67.8],"nice":false,"zero":false},"axis":{"values":[0,20,40,60],"title":"Postnatal age (days)"}},
    "y":{"field":"v","type":"quantitative","scale":{"domain":[-0.95,19.95],"nice":false,"zero":false},"axis":{"values":[0,5,10,15],"title":"Richness (number of OTUs)","titlePadding":10.5}},
    "color":{"field":"g","type":"nominal","legend":null},"detail":{"field":"id"}}},
  {"data":{"name":"fit"},"transform":[{"filter":"datum.p=='a'"},{"flatten":["t","y","lo","hi"]}],
   "mark":{"type":"area","opacity":0.35,"clip":true},
   "encoding":{"x":{"field":"t","type":"quantitative"},"y":{"field":"lo","type":"quantitative"},"y2":{"field":"hi"},"color":{"field":"g","type":"nominal","legend":null}}},
  {"data":{"name":"fit"},"transform":[{"filter":"datum.p=='a'"},{"flatten":["t","y","lo","hi"]}],
   "mark":{"type":"line","strokeWidth":2,"clip":true},
   "encoding":{"x":{"field":"t","type":"quantitative"},"y":{"field":"y","type":"quantitative"},"color":{"field":"g","type":"nominal","legend":null}}}
 ]},
{"width":185,"height":187,"title":{"text":"b"},
 "layer":[
  {"data":{"name":"traj"},"transform":[{"filter":"datum.p=='b'"},{"flatten":["t","v"]}],
   "mark":{"type":"line","strokeWidth":0.8,"opacity":0.35,"clip":true},
   "encoding":{"x":{"field":"t","type":"quantitative","scale":{"domain":[-2.7,68.4],"nice":false,"zero":false},"axis":{"values":[0,20,40,60],"title":"Postnatal age (days)"}},
    "y":{"field":"v","type":"quantitative","scale":{"domain":[0,2],"nice":false,"zero":false},"axis":{"values":[0,0.5,1,1.5,2],"format":".1f","title":"lg₂ inverse simpson's diversity index","titlePadding":8.8}},
    "color":{"field":"g","type":"nominal","legend":null},"detail":{"field":"id"}}},
  {"data":{"name":"fit"},"transform":[{"filter":"datum.p=='b'"},{"flatten":["t","y","lo","hi"]}],
   "mark":{"type":"area","opacity":0.35,"clip":true},
   "encoding":{"x":{"field":"t","type":"quantitative"},"y":{"field":"lo","type":"quantitative"},"y2":{"field":"hi"},"color":{"field":"g","type":"nominal","legend":null}}},
  {"data":{"name":"fit"},"transform":[{"filter":"datum.p=='b'"},{"flatten":["t","y","lo","hi"]}],
   "mark":{"type":"line","strokeWidth":2,"clip":true},
   "encoding":{"x":{"field":"t","type":"quantitative"},"y":{"field":"y","type":"quantitative"},"color":{"field":"g","type":"nominal","legend":null}}}
 ]},
{"width":185,"height":187,"title":{"text":"c"},
 "layer":[
  {"data":{"name":"traj"},"transform":[{"filter":"datum.p=='c'"},{"flatten":["t","v"]}],
   "mark":{"type":"line","strokeWidth":0.8,"opacity":0.35,"clip":true},
   "encoding":{"x":{"field":"t","type":"quantitative","scale":{"domain":[-3.2,67.5],"nice":false,"zero":false},"axis":{"values":[0,20,40,60],"title":"Postnatal age (days)"}},
    "y":{"field":"v","type":"quantitative","scale":{"domain":[-2.23,2.28],"nice":false,"zero":false},"axis":{"values":[-2,-1,0,1,2],"title":"Microbiota developement index","titlePadding":6.5}},
    "color":{"field":"g","type":"nominal","legend":null},"detail":{"field":"id"}}},
  {"data":{"name":"fit"},"transform":[{"filter":"datum.p=='c'"},{"flatten":["t","y","lo","hi"]}],
   "mark":{"type":"area","opacity":0.35,"clip":true},
   "encoding":{"x":{"field":"t","type":"quantitative"},"y":{"field":"lo","type":"quantitative"},"y2":{"field":"hi"},"color":{"field":"g","type":"nominal","legend":null}}},
  {"data":{"name":"fit"},"transform":[{"filter":"datum.p=='c'"},{"flatten":["t","y","lo","hi"]}],
   "mark":{"type":"line","strokeWidth":2,"clip":true},
   "encoding":{"x":{"field":"t","type":"quantitative"},"y":{"field":"y","type":"quantitative"},"color":{"field":"g","type":"nominal","legend":null}}}
 ]},
{"width":185,"height":187,"title":{"text":"d"},
 "layer":[
  {"data":{"name":"traj"},"transform":[{"filter":"datum.p=='d'"},{"flatten":["t","v"]}],
   "mark":{"type":"line","strokeWidth":0.8,"opacity":0.35,"clip":true},
   "encoding":{"x":{"field":"t","type":"quantitative","scale":{"domain":[0,64.5],"nice":false,"zero":false},"axis":{"values":[0,20,40,60],"title":"Postnatal age (days)"}},
    "y":{"field":"v","type":"quantitative","scale":{"domain":[0,100],"nice":false},"axis":{"values":[0,25,50,75,100],"title":"%–Staphylococcus","titlePadding":7}},
    "color":{"field":"g","type":"nominal","legend":null},"detail":{"field":"id"}}},
  {"data":{"name":"fit"},"transform":[{"filter":"datum.p=='d'"},{"flatten":["t","y","lo","hi"]}],
   "mark":{"type":"area","opacity":0.35,"clip":true},
   "encoding":{"x":{"field":"t","type":"quantitative"},"y":{"field":"lo","type":"quantitative"},"y2":{"field":"hi"},"color":{"field":"g","type":"nominal","legend":null}}},
  {"data":{"name":"fit"},"transform":[{"filter":"datum.p=='d'"},{"flatten":["t","y","lo","hi"]}],
   "mark":{"type":"line","strokeWidth":2,"clip":true},
   "encoding":{"x":{"field":"t","type":"quantitative"},"y":{"field":"y","type":"quantitative"},"color":{"field":"g","type":"nominal","legend":null}}}
 ]},
{"width":185,"height":187,"title":{"text":"e"},
 "layer":[
  {"data":{"name":"traj"},"transform":[{"filter":"datum.p=='e'"},{"flatten":["t","v"]}],
   "mark":{"type":"line","strokeWidth":0.8,"opacity":0.35,"clip":true},
   "encoding":{"x":{"field":"t","type":"quantitative","scale":{"domain":[0,65],"nice":false,"zero":false},"axis":{"values":[0,20,40,60],"title":"Postnatal age (days)"}},
    "y":{"field":"v","type":"quantitative","scale":{"domain":[0,100],"nice":false},"axis":{"values":[0,25,50,75,100],"title":"%–Enterococcus","titlePadding":6}},
    "color":{"field":"g","type":"nominal","legend":null},"detail":{"field":"id"}}},
  {"data":{"name":"fit"},"transform":[{"filter":"datum.p=='e'"},{"flatten":["t","y","lo","hi"]}],
   "mark":{"type":"area","opacity":0.35,"clip":true},
   "encoding":{"x":{"field":"t","type":"quantitative"},"y":{"field":"lo","type":"quantitative"},"y2":{"field":"hi"},"color":{"field":"g","type":"nominal","legend":null}}},
  {"data":{"name":"fit"},"transform":[{"filter":"datum.p=='e'"},{"flatten":["t","y","lo","hi"]}],
   "mark":{"type":"line","strokeWidth":2,"clip":true},
   "encoding":{"x":{"field":"t","type":"quantitative"},"y":{"field":"y","type":"quantitative"},"color":{"field":"g","type":"nominal","legend":null}}}
 ]},
{"width":185,"height":187,"title":{"text":"f"},
 "layer":[
  {"data":{"name":"traj"},"transform":[{"filter":"datum.p=='f'"},{"flatten":["t","v"]}],
   "mark":{"type":"line","strokeWidth":0.8,"opacity":0.35,"clip":true},
   "encoding":{"x":{"field":"t","type":"quantitative","scale":{"domain":[0,64.5],"nice":false,"zero":false},"axis":{"values":[0,20,40,60],"title":"Postnatal age (days)"}},
    "y":{"field":"v","type":"quantitative","scale":{"domain":[0,100],"nice":false},"axis":{"values":[0,25,50,75,100],"title":"%–Enterobacter","titlePadding":3}},
    "color":{"field":"g","type":"nominal","legend":null},"detail":{"field":"id"}}},
  {"data":{"name":"fit"},"transform":[{"filter":"datum.p=='f'"},{"flatten":["t","y","lo","hi"]}],
   "mark":{"type":"area","opacity":0.35,"clip":true},
   "encoding":{"x":{"field":"t","type":"quantitative"},"y":{"field":"lo","type":"quantitative"},"y2":{"field":"hi"},"color":{"field":"g","type":"nominal","legend":null}}},
  {"data":{"name":"fit"},"transform":[{"filter":"datum.p=='f'"},{"flatten":["t","y","lo","hi"]}],
   "mark":{"type":"line","strokeWidth":2,"clip":true},
   "encoding":{"x":{"field":"t","type":"quantitative"},"y":{"field":"y","type":"quantitative"},"color":{"field":"g","type":"nominal","legend":null}}}
 ]},
{"width":185,"height":187,"title":{"text":"g"},
 "layer":[
  {"data":{"name":"traj"},"transform":[{"filter":"datum.p=='g'"},{"flatten":["t","v"]}],
   "mark":{"type":"line","strokeWidth":0.8,"opacity":0.35,"clip":true},
   "encoding":{"x":{"field":"t","type":"quantitative","scale":{"domain":[0,64],"nice":false,"zero":false},"axis":{"values":[0,20,40,60],"title":"Postnatal age (days)"}},
    "y":{"field":"v","type":"quantitative","scale":{"domain":[0,100],"nice":false},"axis":{"values":[0,25,50,75,100],"title":"%–Bifidobacterium","titlePadding":7}},
    "color":{"field":"g","type":"nominal","legend":null},"detail":{"field":"id"}}},
  {"data":{"name":"fit"},"transform":[{"filter":"datum.p=='g'"},{"flatten":["t","y","lo","hi"]}],
   "mark":{"type":"area","opacity":0.35,"clip":true},
   "encoding":{"x":{"field":"t","type":"quantitative"},"y":{"field":"lo","type":"quantitative"},"y2":{"field":"hi"},"color":{"field":"g","type":"nominal","legend":null}}},
  {"data":{"name":"fit"},"transform":[{"filter":"datum.p=='g'"},{"flatten":["t","y","lo","hi"]}],
   "mark":{"type":"line","strokeWidth":2,"clip":true},
   "encoding":{"x":{"field":"t","type":"quantitative"},"y":{"field":"y","type":"quantitative"},"color":{"field":"g","type":"nominal","legend":null}}}
 ]},
{"width":185,"height":187,"title":{"text":"h"},
 "layer":[
  {"data":{"name":"traj"},"transform":[{"filter":"datum.p=='h'"},{"flatten":["t","v"]}],
   "mark":{"type":"line","strokeWidth":0.8,"opacity":0.35,"clip":true},
   "encoding":{"x":{"field":"t","type":"quantitative","scale":{"domain":[0,64],"nice":false,"zero":false},"axis":{"values":[0,20,40,60],"title":"Postnatal age (days)"}},
    "y":{"field":"v","type":"quantitative","scale":{"domain":[0,100],"nice":false},"axis":{"values":[0,25,50,75,100],"title":"%–Other microbes","titlePadding":6}},
    "color":{"field":"g","type":"nominal","legend":null},"detail":{"field":"id"}}},
  {"data":{"name":"fit"},"transform":[{"filter":"datum.p=='h'"},{"flatten":["t","y","lo","hi"]}],
   "mark":{"type":"area","opacity":0.35,"clip":true},
   "encoding":{"x":{"field":"t","type":"quantitative"},"y":{"field":"lo","type":"quantitative"},"y2":{"field":"hi"},"color":{"field":"g","type":"nominal","legend":null}}},
  {"data":{"name":"fit"},"transform":[{"filter":"datum.p=='h'"},{"flatten":["t","y","lo","hi"]}],
   "mark":{"type":"line","strokeWidth":2,"clip":true},
   "encoding":{"x":{"field":"t","type":"quantitative"},"y":{"field":"y","type":"quantitative"},"color":{"field":"g","type":"nominal","legend":null}}}
 ]},
{"width":185,"height":187,
 "data":{"name":"legend"},
 "layer":[
  {"mark":{"type":"point","shape":"square","filled":true,"size":225,"opacity":1,"strokeWidth":0},
   "encoding":{"x":{"field":"c","type":"quantitative","scale":{"domain":[-1.209,3.093],"nice":false,"zero":false},"axis":null},
    "y":{"field":"r","type":"quantitative","scale":{"domain":[-1.246,2.035],"nice":false,"zero":false,"reverse":true},"axis":null},
    "fill":{"field":"g","type":"nominal","scale":{"domain":["ec","ei","mc","mi"],"range":["#ffb3b3","#ffe3b3","#b3b3ff","#c2eeff"]},"legend":null}}},
  {"mark":{"type":"point","shape":"M-1,0L1,0","filled":false,"size":121,"strokeWidth":2,"opacity":1},
   "encoding":{"x":{"field":"c","type":"quantitative"},"y":{"field":"r","type":"quantitative"},
    "stroke":{"field":"g","type":"nominal","scale":{"domain":["ec","ei","mc","mi"],"range":["#ff0000","#ffa500","#0000cd","#00bfff"]},"legend":null}}},
  {"mark":{"type":"text","baseline":"top","dy":11,"lineBreak":"\n","lineHeight":9.5,"fontSize":8.2,"color":"#222","font":"Liberation Sans"},
   "encoding":{"x":{"field":"c","type":"quantitative"},"y":{"field":"r","type":"quantitative"},"text":{"field":"lab"}}}
 ]}
],
"config": {
 "font": "Liberation Sans",
 "view": {"stroke": null},
 "axis": {"grid": false, "domainColor": "#333", "domainWidth": 0.8, "tickColor": "#333", "tickWidth": 0.8, "tickSize": 3.3, "labelFont": "Liberation Sans", "labelFontSize": 7.5, "labelColor": "#222", "labelFlush": false, "titleFont": "Liberation Sans", "titleFontSize": 8.3, "titleFontWeight": "normal", "titleColor": "#111"},
 "axisX": {"labelPadding": 2.5, "titlePadding": 6},
 "axisY": {"labelPadding": 4},
 "title": {"anchor": "start", "frame": "bounds", "fontSize": 12.5, "fontWeight": "bold", "font": "Liberation Sans", "offset": -11, "baseline": "alphabetic", "color": "#000"},
 "range": {"category": ["#f01c1c", "#ffa500", "#00008b", "#00bfff"]}
}
}
